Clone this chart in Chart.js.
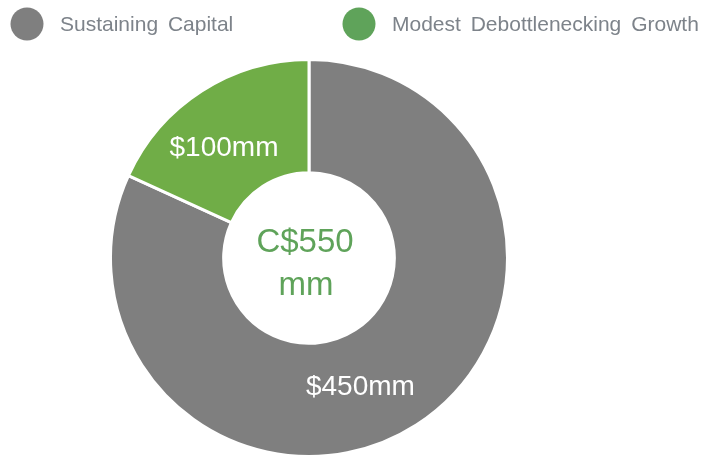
<!DOCTYPE html>
<html>
<head>
<meta charset="utf-8">
<script src="https://cdn.jsdelivr.net/npm/chart.js@4/dist/chart.umd.min.js"></script>
<style>
  html, body { margin: 0; padding: 0; background: #fff; }
  #wrap { width: 702px; height: 458px; }
</style>
</head>
<body>
<div id="wrap"><canvas id="donut" width="702" height="458"></canvas></div>
<script>
// Datos del gráfico
const categorias = ['Sustaining Capital', 'Modest Debottlenecking Growth'];
const valores = [450, 100];
const etiquetas = ['$450mm', '$100mm'];
const textoCentro = ['C$550', 'mm'];

const colores = ['#7f7f7f', '#70ad47'];
const coloresLeyenda = ['#7f7f7f', '#5fa35a'];
const FUENTE = "'Liberation Sans', Arial, sans-serif";

// Leyenda, etiquetas y texto central dibujados a mano
const extras = {
    id: 'extras',
    afterDraw(chart) {
        const ctx = chart.ctx;
        const meta = chart.getDatasetMeta(0);
        ctx.save();

        // leyenda arriba
        const leyendaX = [27, 359];
        ctx.font = '21px ' + FUENTE;
        ctx.textBaseline = 'middle';
        ctx.textAlign = 'left';
        categorias.forEach((cat, i) => {
            ctx.fillStyle = coloresLeyenda[i];
            ctx.beginPath();
            ctx.arc(leyendaX[i], 24, 16.5, 0, Math.PI * 2);
            ctx.fill();
            ctx.fillStyle = '#7d838a';
            ctx.wordSpacing = '4px';
            ctx.fillText(cat, leyendaX[i] + 33, 25);
        });

        // etiquetas de valores sobre cada porción
        const giro = [11, -5];
        ctx.font = '28px ' + FUENTE;
        ctx.textAlign = 'center';
        ctx.fillStyle = '#ffffff';
        meta.data.forEach((arc, i) => {
            const p = arc.getProps(['x', 'y', 'startAngle', 'endAngle', 'innerRadius', 'outerRadius'], true);
            const ang = (p.startAngle + p.endAngle) / 2 + giro[i] * Math.PI / 180;
            const r = (p.innerRadius + p.outerRadius) / 2 - 3;
            ctx.fillText(etiquetas[i], p.x + Math.cos(ang) * r, p.y + Math.sin(ang) * r);
        });

        // texto central
        const centro = meta.data[0];
        ctx.font = '33px ' + FUENTE;
        ctx.fillStyle = '#5fa35a';
        ctx.fillText(textoCentro[0], centro.x - 4, centro.y - 15);
        ctx.fillText(textoCentro[1], centro.x - 3, centro.y + 28);
        ctx.restore();
    }
};

new Chart(document.getElementById('donut'), {
    type: 'doughnut',
    data: {
        labels: categorias,
        datasets: [{
            data: valores,
            backgroundColor: colores,
            borderColor: '#ffffff',
            borderWidth: 3
        }]
    },
    options: {
        responsive: false,
        animation: false,
        cutout: '43%',
        layout: { padding: { top: 58, right: 84, left: 0, bottom: 0 } },
        plugins: {
            legend: { display: false },
            tooltip: { enabled: false }
        }
    },
    plugins: [extras]
});
</script>
</body>
</html>
